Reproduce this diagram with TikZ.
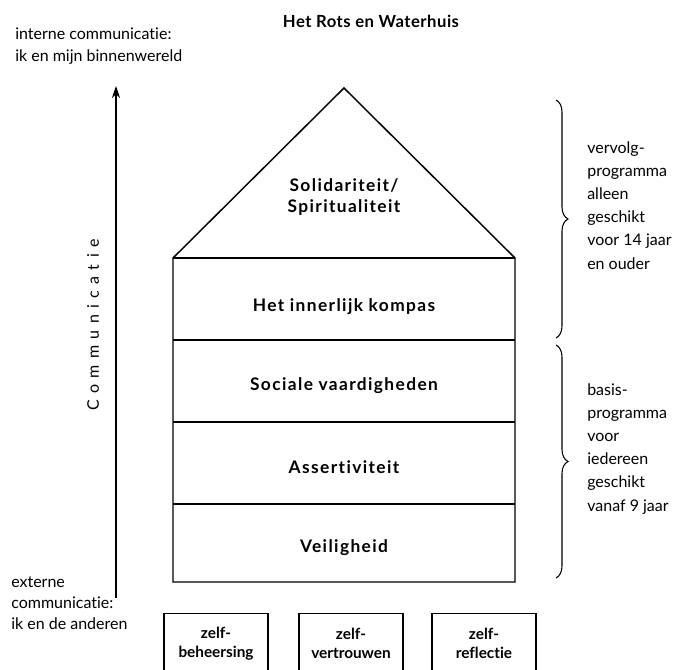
\documentclass[tikz,border=0pt]{standalone}
\usepackage{fontspec}
\setmainfont[Ligatures=NoCommon]{Lato}
\newfontfamily\spacedfont[LetterSpace=40,Ligatures=NoCommon]{Lato}
\newfontfamily\boldspaced[LetterSpace=8,Ligatures=NoCommon]{Lato}
\newfontfamily\titlefont[LetterSpace=3,Ligatures=NoCommon]{Lato}
\usetikzlibrary{positioning,decorations.pathreplacing,arrows.meta}
\tikzset{
    % plain text blocks
    note/.style={
        font=\fontsize{12}{15.8}\selectfont,
        align=left,
        inner sep=0pt,
    },
    % layer labels in the house
    layer/.style={
        font=\fontsize{13}{16}\selectfont\boldspaced\bfseries,
        align=center,
        inner sep=0pt,
    },
    % house outline and floors
    house/.style={
        line width=1.1pt,
        line join=miter,
    },
    % boxes below the house
    pillar/.style={
        draw,
        line width=0.9pt,
        rectangle,
        minimum width=78pt,
        minimum height=45pt,
        anchor=north,
        font=\fontsize{11.5}{14}\selectfont\bfseries,
        align=center,
    },
    % braces on the right
    bracket/.style={
        decorate,
        decoration={brace,amplitude=9pt},
        line width=0.8pt,
    },
}

\begin{document}
\begin{tikzpicture}[x=0.75pt,y=-0.75pt]
    \useasboundingbox (0,0) rectangle (692,670);

    % Title
    \node[inner sep=0pt,font=\fontsize{12.5}{16}\selectfont\titlefont\bfseries] (title) at (371,21) {Het Rots en Waterhuis};

    % Communication axis
    \coordinate (commBot) at (116,598);
    \coordinate (commTop) at (116,86);
    \draw[line width=0.8pt,-{Stealth[length=9pt,width=6pt]}] (commBot) -- (commTop);
    \node[rotate=90,font=\fontsize{12}{14}\selectfont\spacedfont,inner sep=0pt] (comm) at (93,325) {Communicatie};

    \node[note,anchor=north west] (intern) at (15,28) {interne communicatie:\\ik en mijn binnenwereld};
    \node[note,anchor=north west] (extern) at (11,576) {externe\\communicatie:\\ik en de anderen};

    % House
    \draw[house] (173,582) -- (173,258) -- (344,88) -- (515,258) -- (515,582) -- cycle;
    \foreach \y in {258,340,422,504} {
        \draw[house] (173,\y) -- (515,\y);
    }

    \node[layer] (roof) at (344,197) {Solidariteit/\\Spiritualiteit};
    \node[layer] (kompas) at (344,307) {Het innerlijk kompas};
    \node[layer] (sociaal) at (344,386) {Sociale vaardigheden};
    \node[layer] (assert) at (344,467) {Assertiviteit};
    \node[layer] (veilig) at (344,548) {Veiligheid};

    % Foundation boxes
    \node[pillar] (beheer) at (216,613) {zelf-\\beheersing};
    \node[pillar] (vertrouw) at (351,613) {zelf-\\vertrouwen};
    \node[pillar] (reflect) at (484,613) {zelf-\\reflectie};

    % Programmes
    \draw[bracket] (556,100) -- (556,338);
    \draw[bracket] (556,345) -- (556,578);

    \node[note,anchor=north west,font=\fontsize{12}{17.4}\selectfont] (vervolg) at (587,141) {vervolg-\\programma\\alleen\\geschikt\\voor 14 jaar\\en ouder};
    \node[note,anchor=north west,font=\fontsize{12}{17.4}\selectfont] (basis) at (587,383) {basis-\\programma\\voor\\iedereen\\geschikt\\vanaf 9 jaar};
\end{tikzpicture}
\end{document}
